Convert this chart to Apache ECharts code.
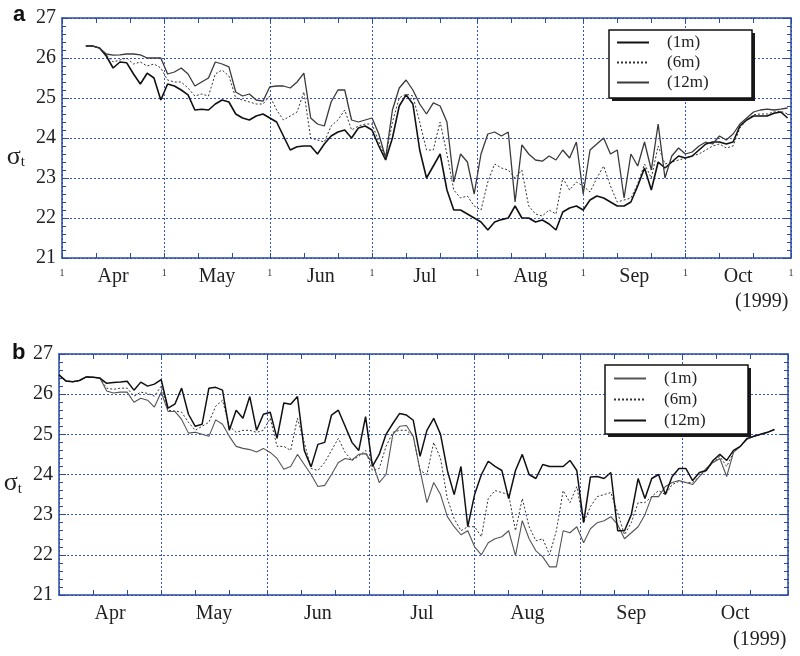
<!DOCTYPE html>
<html>
<head>
<meta charset="utf-8">
<title>sigma-t 1999</title>
<script src="https://cdn.jsdelivr.net/npm/echarts@6/dist/echarts.min.js"></script>
<style>
  html, body { margin: 0; padding: 0; background: #fff; }
  #main { width: 800px; height: 656px; }
</style>
</head>
<body>
<div id="main"></div>
<script>
// x values are days after 1 Apr 1999
const monthStarts = [0, 30, 61, 91, 122, 153, 183, 214]
const monthMids = [15, 45.5, 76, 106.5, 137.5, 168, 198.5]
const monthNames = ['Apr', 'May', 'Jun', 'Jul', 'Aug', 'Sep', 'Oct']
const minorDays = [0, 10, 20, 30, 40, 50, 61, 71, 81, 91, 101, 111, 122, 132, 142, 153, 163, 173, 183, 193, 203, 214]

// panel a
const aDays = [7, 9, 11, 13, 15, 17, 19, 21, 23, 25, 27, 29, 31, 33, 35, 37, 39, 41, 43, 45, 47, 49, 51, 53, 55, 57, 59, 61, 63, 65, 67, 69, 71, 73, 75, 77, 79, 81, 83, 85, 87, 89, 91, 93, 95, 97, 99, 101, 103, 105, 107, 109, 111, 113, 115, 117, 119, 121, 123, 125, 127, 129, 131, 133, 135, 137, 139, 141, 143, 145, 147, 149, 151, 153, 155, 157, 159, 161, 163, 165, 167, 169, 171, 173, 175, 177, 179, 181, 183, 185, 187, 189, 191, 193, 195, 197, 199, 201, 203, 205, 207, 209, 211, 213]
const a1m = [26.3, 26.3, 26.25, 26.05, 25.75, 25.9, 25.88, 25.6, 25.35, 25.62, 25.5, 24.95, 25.35, 25.3, 25.2, 25.08, 24.7, 24.72, 24.7, 24.85, 24.95, 24.9, 24.6, 24.5, 24.45, 24.55, 24.6, 24.5, 24.4, 24.05, 23.7, 23.78, 23.8, 23.8, 23.6, 23.85, 24.05, 24.15, 24.2, 24.0, 24.25, 24.3, 24.2, 23.8, 23.45, 24.0, 24.8, 25.08, 24.85, 23.7, 23.0, 23.3, 23.6, 22.7, 22.2, 22.2, 22.1, 22.0, 21.9, 21.7, 21.9, 21.96, 22.0, 22.3, 22.0, 22.0, 21.9, 21.95, 21.85, 21.7, 22.15, 22.25, 22.3, 22.2, 22.45, 22.55, 22.5, 22.4, 22.3, 22.3, 22.4, 22.8, 23.25, 22.7, 23.4, 23.25, 23.4, 23.55, 23.5, 23.55, 23.7, 23.85, 23.9, 23.9, 23.85, 23.9, 24.3, 24.45, 24.55, 24.55, 24.55, 24.62, 24.65, 24.5]
const a6m = [26.3, 26.3, 26.25, 26.08, 25.9, 25.95, 26.0, 25.85, 25.9, 25.8, 25.85, 25.75, 25.45, 25.4, 25.4, 25.25, 25.05, 25.1, 25.05, 25.6, 25.7, 25.55, 25.0, 24.95, 24.9, 24.85, 24.85, 25.05, 24.7, 24.45, 24.55, 24.65, 25.15, 24.0, 23.95, 23.9, 24.3, 24.45, 24.7, 24.2, 24.3, 24.35, 24.35, 23.9, 23.5, 24.4, 25.0, 25.1, 25.05, 24.4, 23.7, 23.7, 24.4, 23.6, 22.7, 22.5, 22.55, 22.3, 22.2, 22.9, 23.35, 23.25, 23.2, 23.0, 23.2, 22.3, 22.1, 22.05, 22.2, 22.1, 23.0, 22.7, 22.9, 22.8, 22.65, 23.0, 23.3, 22.8, 22.4, 22.45, 22.5, 22.85, 23.35, 23.0, 23.8, 23.35, 23.4, 23.45, 23.5, 23.55, 23.6, 23.7, 23.8, 23.85, 23.75, 23.8, 24.25, 24.45, 24.58, 24.6, 24.6, 24.65, 24.67, 24.6]
const a12m = [26.3, 26.3, 26.25, 26.1, 26.07, 26.08, 26.1, 26.1, 26.08, 26.0, 26.0, 26.0, 25.6, 25.65, 25.75, 25.6, 25.3, 25.4, 25.5, 25.9, 25.85, 25.78, 25.15, 25.05, 25.1, 24.95, 24.92, 25.28, 25.3, 25.3, 25.25, 25.4, 25.62, 24.5, 24.35, 24.3, 24.9, 25.2, 25.2, 24.45, 24.4, 24.45, 24.5, 24.1, 23.5, 24.7, 25.25, 25.45, 25.2, 24.85, 24.6, 24.88, 24.8, 24.4, 22.9, 23.6, 23.4, 22.6, 23.6, 24.1, 24.15, 24.05, 24.15, 22.4, 23.83, 23.6, 23.45, 23.42, 23.55, 23.45, 23.7, 23.5, 23.9, 22.6, 23.7, 23.85, 24.0, 23.6, 23.7, 22.5, 23.6, 23.3, 23.9, 23.2, 24.35, 23.0, 23.55, 23.75, 23.6, 23.65, 23.8, 23.9, 23.85, 24.05, 23.95, 24.1, 24.35, 24.5, 24.65, 24.7, 24.72, 24.7, 24.72, 24.75]

// panel b
const bDays = [0, 2, 4, 6, 8, 10, 12, 14, 16, 18, 20, 22, 24, 26, 28, 30, 32, 34, 36, 38, 40, 42, 44, 46, 48, 50, 52, 54, 56, 58, 60, 62, 64, 66, 68, 70, 72, 74, 76, 78, 80, 82, 84, 86, 88, 90, 92, 94, 96, 98, 100, 102, 104, 106, 108, 110, 112, 114, 116, 118, 120, 122, 124, 126, 128, 130, 132, 134, 136, 138, 140, 142, 144, 146, 148, 150, 152, 154, 156, 158, 160, 162, 164, 166, 168, 170, 172, 174, 176, 178, 180, 182, 184, 186, 188, 190, 192, 194, 196, 198, 200, 202, 204, 206, 208, 210]
const b1m = [26.48, 26.33, 26.31, 26.34, 26.43, 26.42, 26.4, 26.08, 26.03, 26.05, 26.05, 25.8, 25.9, 25.85, 25.68, 26.05, 25.57, 25.57, 25.37, 25.03, 25.05, 25.0, 24.95, 25.36, 25.25, 24.95, 24.7, 24.65, 24.62, 24.56, 24.65, 24.55, 24.4, 24.13, 24.2, 24.5, 24.25, 24.0, 23.7, 23.73, 24.0, 24.3, 24.4, 24.36, 24.5, 24.52, 24.3, 23.8, 24.0, 25.0, 25.2, 25.22, 24.95, 24.1, 23.3, 23.8, 23.5, 22.95, 22.7, 22.5, 22.6, 22.2, 22.0, 22.3, 22.4, 22.45, 22.6, 21.98, 22.85, 22.4, 22.1, 21.95, 21.7, 21.7, 22.6, 22.55, 22.7, 22.3, 22.65, 22.8, 22.85, 22.95, 22.75, 22.4, 22.55, 22.7, 23.0, 23.45, 23.45, 23.7, 23.8, 23.85, 23.8, 23.75, 23.95, 24.15, 24.3, 24.4, 23.95, 24.55, 24.7, 24.88, 24.95, 25.0, 25.05, 25.12]
const b6m = [26.48, 26.33, 26.31, 26.34, 26.43, 26.42, 26.4, 26.15, 26.12, 26.15, 26.15, 25.95, 26.05, 26.02, 25.95, 26.2, 25.6, 25.58, 25.55, 25.3, 25.1, 25.2, 25.3, 25.7, 25.85, 25.2, 25.05, 25.1, 25.1, 25.05, 25.1, 25.4, 24.7, 24.7, 24.6, 25.4, 24.8, 24.15, 24.1, 24.3, 24.6, 24.9, 24.55, 24.35, 24.45, 24.6, 24.1, 24.15, 24.7, 25.05, 25.1, 25.1, 24.95, 24.1, 24.0, 24.8, 24.4, 23.4, 22.9, 22.6, 22.7, 22.7, 22.45, 23.4, 23.6, 23.55, 23.5, 22.6, 23.4, 22.7, 22.35, 22.4, 22.0, 22.6, 23.6, 23.3, 23.7, 22.8, 23.2, 23.45, 23.5, 23.55, 23.05, 22.5, 22.8, 23.3, 23.3, 23.45, 23.6, 23.5, 23.75, 23.83, 23.8, 23.8, 23.95, 24.1, 24.3, 24.45, 24.2, 24.55, 24.7, 24.88, 24.95, 25.0, 25.05, 25.12]
const b12m = [26.48, 26.33, 26.31, 26.34, 26.43, 26.42, 26.4, 26.27, 26.29, 26.3, 26.32, 26.1, 26.3, 26.2, 26.25, 26.36, 25.65, 25.75, 26.15, 25.5, 25.2, 25.25, 26.15, 26.17, 26.1, 25.1, 25.6, 25.4, 25.94, 25.1, 25.5, 25.55, 24.9, 25.78, 25.75, 25.94, 24.6, 24.19, 24.75, 24.8, 25.48, 25.6, 25.2, 24.8, 24.6, 25.44, 24.2, 24.5, 25.0, 25.27, 25.52, 25.48, 25.35, 24.45, 25.1, 25.4, 25.0, 24.1, 23.5, 24.2, 22.7, 23.5, 24.0, 24.33, 24.2, 24.1, 23.4, 24.1, 24.5, 24.0, 23.9, 24.25, 24.2, 24.2, 24.2, 24.35, 24.1, 22.8, 23.94, 23.95, 23.9, 24.05, 22.6, 22.6, 23.0, 23.9, 23.4, 23.9, 24.0, 23.5, 23.95, 24.15, 24.15, 23.85, 24.05, 24.1, 24.35, 24.5, 24.35, 24.6, 24.7, 24.9, 24.95, 25.0, 25.05, 25.12]

const AXIS = '#2a4ba3'
const GRIDLINE = '#3057c4'
const SERIF = 'Liberation Serif'

const pairs = (days, vals) => days.map((d, i) => [d, vals[i]])

const makeXAxes = (gridIndex, showOnes) => [
  {
    // frame bottom: minor ticks + month names
    type: 'value', gridIndex, min: 0, max: 214, position: 'bottom',
    axisLine: { onZero: false, lineStyle: { color: AXIS, width: 1.5 } },
    axisTick: { inside: true, length: 5, customValues: minorDays, lineStyle: { color: AXIS } },
    axisLabel: {
      customValues: monthMids, margin: 9,
      formatter: v => monthNames[monthMids.indexOf(v)],
      fontFamily: SERIF, fontSize: 20, color: '#222'
    },
    splitLine: { show: false }
  },
  {
    // month boundaries: dotted grid lines
    type: 'value', gridIndex, min: 0, max: 214, position: 'bottom',
    axisLine: { show: false },
    axisTick: { show: false, customValues: monthStarts },
    axisLabel: {
      show: showOnes, customValues: monthStarts, margin: 10,
      formatter: () => '1', fontFamily: SERIF, fontSize: 10, color: '#333'
    },
    splitLine: { show: true, lineStyle: { color: GRIDLINE, type: [2, 2], width: 1 } }
  },
  {
    type: 'value', gridIndex, min: 0, max: 214, position: 'top',
    axisLine: { onZero: false, lineStyle: { color: AXIS, width: 1.5 } },
    axisTick: { inside: true, length: 5, customValues: minorDays, lineStyle: { color: AXIS } },
    axisLabel: { show: false },
    splitLine: { show: false }
  }
]

const makeYAxes = (gridIndex, namePad) => [
  {
    type: 'value', gridIndex, min: 21, max: 27, interval: 1, position: 'left',
    name: '{s|σ}{t|t}', nameLocation: 'middle', nameGap: 37, nameRotate: 0,
    nameTextStyle: {
      padding: [namePad, 0, 0, 0],
      rich: {
        s: { fontFamily: SERIF, fontSize: 26, color: '#222', lineHeight: 26 },
        t: { fontFamily: SERIF, fontSize: 15, color: '#222', verticalAlign: 'bottom', lineHeight: 18 }
      }
    },
    axisLine: { onZero: false, lineStyle: { color: AXIS, width: 1.5 } },
    axisTick: { inside: true, length: 7, lineStyle: { color: AXIS } },
    minorTick: { show: true, splitNumber: 5, length: 4, lineStyle: { color: AXIS } },
    axisLabel: { margin: 6, fontFamily: SERIF, fontSize: 20, color: '#222' },
    splitLine: { show: true, lineStyle: { color: GRIDLINE, type: [2, 2], width: 1 } }
  },
  {
    type: 'value', gridIndex, min: 21, max: 27, interval: 1, position: 'right',
    axisLine: { onZero: false, lineStyle: { color: AXIS, width: 1.5 } },
    axisTick: { inside: true, length: 7, lineStyle: { color: AXIS } },
    minorTick: { show: true, splitNumber: 5, length: 4, lineStyle: { color: AXIS } },
    axisLabel: { show: false },
    splitLine: { show: false }
  }
]

const lineSeries = (name, data, xAxisIndex, yAxisIndex, style) => ({
  name, type: 'line', data, xAxisIndex, yAxisIndex,
  symbol: 'none', smooth: false, silent: true,
  itemStyle: { color: style.color },
  lineStyle: style, z: style.type === 'solid' ? 3 : 2
})

// legend items only; the framed box with its hard drop shadow is drawn in graphic
const legendItems = (left, top, gap, names, formatter) => ({
  data: names, formatter, left, top, orient: 'vertical', selectedMode: false,
  itemWidth: 32, itemHeight: 14, itemGap: gap, padding: 0, z: 7,
  itemStyle: { opacity: 0 },
  textStyle: { fontFamily: SERIF, fontSize: 17, color: '#222', padding: [0, 0, 0, 13] }
})

const legendFrame = (x, y, w, h) => ({
  type: 'group', z: 6,
  children: [
    { type: 'rect', shape: { x: x + 3, y: y + 3, width: w, height: h }, style: { fill: '#1a1a1a' }, z: 6 },
    { type: 'rect', shape: { x, y, width: w, height: h }, style: { fill: '#fff', stroke: '#111', lineWidth: 1.5 }, z: 6 }
  ]
})

const chart = echarts.init(document.getElementById('main'), null, { renderer: 'canvas' })

const option = {
  animation: false,
  backgroundColor: '#fff',
  title: [
    { text: 'a', left: 8, top: -1, textStyle: { fontFamily: 'Liberation Sans', fontWeight: 'bold', fontSize: 22, color: '#111' } },
    { text: 'b', left: 7, top: 337, textStyle: { fontFamily: 'Liberation Sans', fontWeight: 'bold', fontSize: 22, color: '#111' } }
  ],
  grid: [
    { left: 62, right: 9, top: 18, height: 240 },
    { left: 59, right: 12, top: 354, height: 241 }
  ],
  xAxis: [...makeXAxes(0, true), ...makeXAxes(1, false)],
  yAxis: [...makeYAxes(0, 38), ...makeYAxes(1, 18)],
  legend: [
    legendItems(616, 34, 3, ['(1m)', '(6m)', '(12m)']),
    legendItems(613, 370, 4, ['b(1m)', 'b(6m)', 'b(12m)'], n => n.slice(1))
  ],
  graphic: [
    legendFrame(609, 30, 143, 68),
    legendFrame(605, 365, 143, 69),
    { type: 'text', left: 735, top: 292, style: { text: '(1999)', font: '20px "Liberation Serif"', fill: '#222' } },
    { type: 'text', left: 733, top: 630, style: { text: '(1999)', font: '20px "Liberation Serif"', fill: '#222' } }
  ],
  series: [
    lineSeries('(1m)', pairs(aDays, a1m), 0, 0, { color: '#111', width: 1.6, type: 'solid' }),
    lineSeries('(6m)', pairs(aDays, a6m), 0, 0, { color: '#333', width: 1, type: [2, 2] }),
    lineSeries('(12m)', pairs(aDays, a12m), 0, 0, { color: '#3a3a3a', width: 1.3, type: 'solid' }),
    lineSeries('b(1m)', pairs(bDays, b1m), 3, 2, { color: '#555', width: 1.1, type: 'solid' }),
    lineSeries('b(6m)', pairs(bDays, b6m), 3, 2, { color: '#333', width: 1, type: [2, 2] }),
    lineSeries('b(12m)', pairs(bDays, b12m), 3, 2, { color: '#111', width: 1.5, type: 'solid' })
  ]
}

chart.setOption(option)
</script>
</body>
</html>
